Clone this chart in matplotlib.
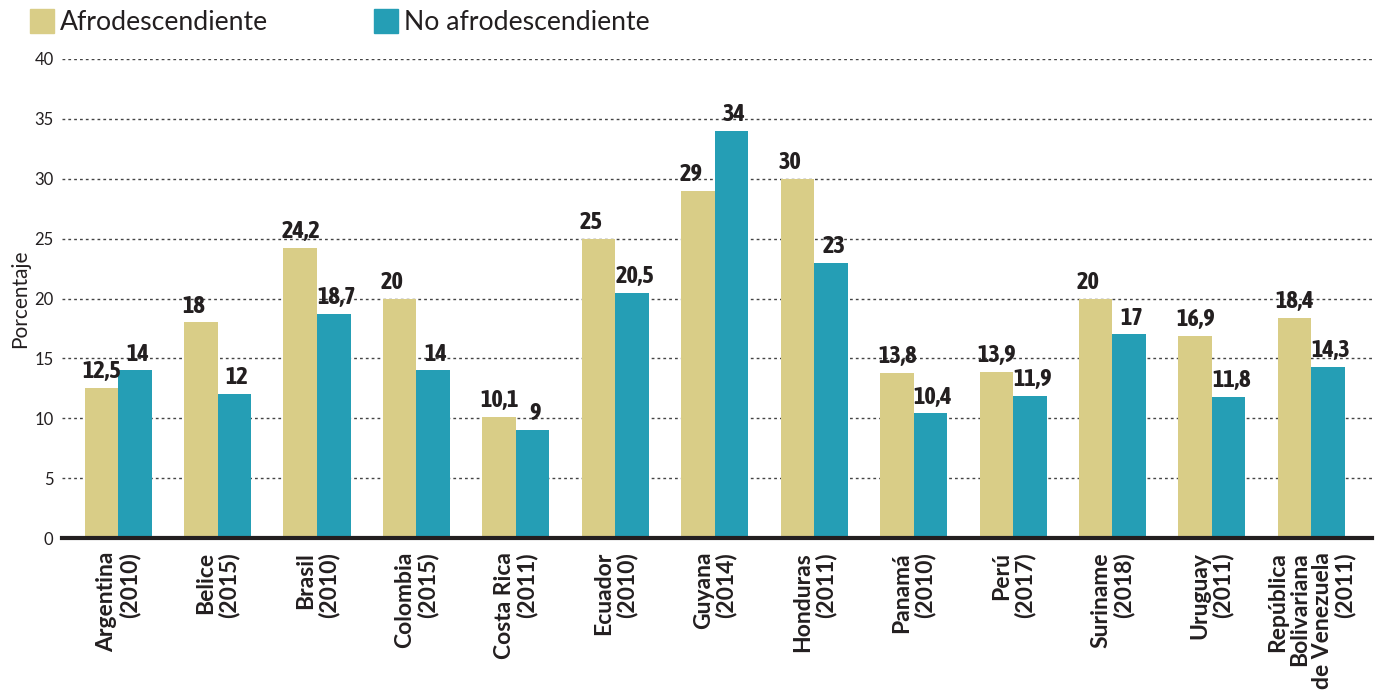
import matplotlib
matplotlib.use("Agg")
import matplotlib.pyplot as plt
from matplotlib import font_manager
from matplotlib.patches import Rectangle
import numpy as np

categories = ["Argentina\n(2010)", "Belice\n(2015)", "Brasil\n(2010)", "Colombia\n(2015)",
              "Costa Rica\n(2011)", "Ecuador\n(2010)", "Guyana\n(2014)", "Honduras\n(2011)",
              "Panamá\n(2010)", "Perú\n(2017)", "Suriname\n(2018)", "Uruguay\n(2011)",
              "República\nBolivariana\nde Venezuela\n(2011)"]
afro = [12.5, 18, 24.2, 20, 10.1, 25, 29, 30, 13.8, 13.9, 20, 16.9, 18.4]
no_afro = [14, 12, 18.7, 14, 9, 20.5, 34, 23, 10.4, 11.9, 17, 11.8, 14.3]
series_names = ["Afrodescendiente", "No afrodescendiente"]
yticks = [0, 5, 10, 15, 20, 25, 30, 35, 40]

GOLD = "#D9CD87"
TEAL = "#259EB5"
TXT = "#231F20"

names = {f.name for f in font_manager.fontManager.ttflist}
if "Asap Condensed" in names:
    num_kw = dict(family=["Asap Condensed", "DejaVu Sans"], fontweight="bold", fontsize=17.5)
else:
    num_kw = dict(family=["DejaVu Sans"], fontstretch="condensed", fontweight="bold", fontsize=13)

fig = plt.figure(figsize=(13.86, 6.99), dpi=100)
ax = fig.add_axes([0.0447, 0.2303, 0.9452, 0.6853])

x = np.arange(len(categories))
w = 0.337
ax.bar(x - w / 2, afro, w, color=GOLD, zorder=3)
ax.bar(x + w / 2, no_afro, w, color=TEAL, zorder=3)

def fmt(v):
    return ("%g" % v).replace(".", ",")

for xi, v in zip(x, afro):
    ax.annotate(fmt(v), (xi - w, v), xytext=(-1.5, 3.5), textcoords="offset points",
                ha="left", va="bottom", zorder=4, color=TXT, **num_kw)
for xi, v in zip(x, no_afro):
    ax.annotate(fmt(v), (xi + w / 2, v), xytext=(2, 3.5), textcoords="offset points",
                ha="center", va="bottom", zorder=4, color=TXT, **num_kw)

ax.set_xlim(-0.565, 12.61)
ax.set_ylim(0, 40)
ax.set_yticks(yticks)
ax.set_yticklabels([str(t) for t in yticks], fontsize=12, family="Lato", color=TXT)
ax.yaxis.grid(True, linestyle=(0, (2, 2.2)), color="#444444", linewidth=1.0, zorder=0)
ax.tick_params(axis="y", length=0, pad=6)
ax.set_xticks(x)
ax.set_xticklabels(categories, rotation=90, ha="center", va="top", multialignment="right",
                   fontsize=16.5, fontweight="bold", family="Lato", color=TXT, linespacing=1.08)
ax.tick_params(axis="x", length=0, pad=10)

for s in ["top", "right", "left"]:
    ax.spines[s].set_visible(False)
ax.spines["bottom"].set_linewidth(3)
ax.spines["bottom"].set_color(TXT)
ax.spines["bottom"].set_zorder(5)

ax.set_ylabel("Porcentaje", fontsize=15, family="Lato", color=TXT)
ax.yaxis.set_label_coords(-0.024, 0.5)

W, H = 1386, 699
def fx(px): return px / W
def fy(py): return 1 - py / H
fig.add_artist(Rectangle((fx(30), fy(33)), fx(24), 24 / H, color=GOLD, transform=fig.transFigure))
fig.text(fx(60), fy(22), series_names[0], fontsize=19.2, family="Lato", color=TXT, va="center", ha="left")
fig.add_artist(Rectangle((fx(374), fy(33)), fx(24), 24 / H, color=TEAL, transform=fig.transFigure))
fig.text(fx(404), fy(22), series_names[1], fontsize=19.2, family="Lato", color=TXT, va="center", ha="left")

fig.savefig("out.png", dpi=100)
